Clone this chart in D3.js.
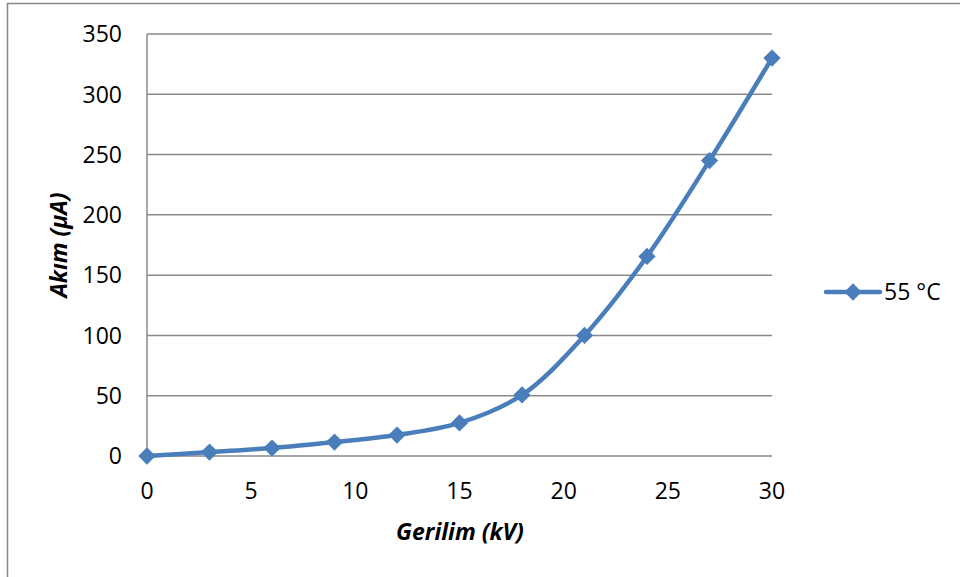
<!DOCTYPE html>
<html>
<head>
<meta charset="utf-8">
<script src="https://cdn.jsdelivr.net/npm/d3@7"></script>
<style>
  body { margin: 0; background: #fff; }
  svg { display: block; }
  text { font-family: "Open Sans", sans-serif; fill: #000; }
</style>
</head>
<body>
<svg id="chart" width="960" height="577"></svg>
<script>
// voltage (kV) and current (uA) readings at 55 C
const voltage = [0, 3, 6, 9, 12, 15, 18, 21, 24, 27, 30];
const current = [0, 3.3, 6.6, 11.6, 17.4, 27.4, 50.6, 100, 165.5, 245, 330];
const xTicks = [0, 5, 10, 15, 20, 25, 30];
const yTicks = [0, 50, 100, 150, 200, 250, 300, 350];
const seriesName = '55 °C';

const blue = '#4a7ebb';
const svg = d3.select('#chart');

// outer chart border (right and bottom fall outside the picture)
svg.append('rect')
	.attr('x', 7.5).attr('y', 3.5)
	.attr('width', 1000).attr('height', 1000)
	.attr('fill', 'none')
	.attr('stroke', '#878787')
	.attr('stroke-width', 1.5);

const plotLeft = 147, plotRight = 772, plotTop = 34, plotBottom = 456;

const x = d3.scaleLinear().domain([0, 30]).range([plotLeft, plotRight]);
const y = d3.scaleLinear().domain([0, 350]).range([plotBottom, plotTop]);

// horizontal gridlines
svg.append('g')
	.selectAll('line')
	.data(yTicks)
	.enter()
	.append('line')
	.attr('x1', plotLeft).attr('x2', plotRight)
	.attr('y1', d => y(d)).attr('y2', d => y(d))
	.attr('stroke', '#898989')
	.attr('stroke-width', 1.5);

// vertical axis line
svg.append('line')
	.attr('x1', plotLeft).attr('x2', plotLeft)
	.attr('y1', plotTop).attr('y2', plotBottom)
	.attr('stroke', '#898989')
	.attr('stroke-width', 1.5);

// y tick labels
svg.append('g')
	.selectAll('text')
	.data(yTicks)
	.enter()
	.append('text')
	.attr('x', 122)
	.attr('y', d => y(d))
	.attr('dy', '0.36em')
	.attr('text-anchor', 'end')
	.style('font-size', '23px')
	.text(d => d);

// x tick labels
svg.append('g')
	.selectAll('text')
	.data(xTicks)
	.enter()
	.append('text')
	.attr('x', d => x(d))
	.attr('y', 499)
	.attr('text-anchor', 'middle')
	.style('font-size', '23px')
	.text(d => d);

// axis titles
svg.append('text')
	.attr('x', 460).attr('y', 540)
	.attr('text-anchor', 'middle')
	.style('font-size', '23px')
	.style('font-weight', 'bold')
	.style('font-style', 'italic')
	.text('Gerilim (kV)');

svg.append('text')
	.attr('transform', 'translate(67,245) rotate(-90)')
	.attr('text-anchor', 'middle')
	.style('font-size', '23px')
	.style('font-weight', 'bold')
	.style('font-style', 'italic')
	.text('Akım (µA)');

const points = voltage.map((v, i) => [v, current[i]]);

const line = d3.line()
	.x(d => x(d[0]))
	.y(d => y(d[1]))
	.curve(d3.curveCatmullRom.alpha(0.5));

svg.append('path')
	.datum(points)
	.attr('d', line)
	.attr('fill', 'none')
	.attr('stroke', blue)
	.attr('stroke-width', 4.5)
	.attr('stroke-linecap', 'round');

const diamond = d3.symbol().type(d3.symbolDiamond2).size(190);

svg.append('g')
	.selectAll('path')
	.data(points)
	.enter()
	.append('path')
	.attr('d', diamond)
	.attr('transform', d => `translate(${x(d[0])},${y(d[1])})`)
	.attr('fill', blue);

// legend
const lg = svg.append('g').attr('transform', 'translate(826,292)');
lg.append('line')
	.attr('x1', 0).attr('x2', 54)
	.attr('stroke', blue)
	.attr('stroke-width', 4.5)
	.attr('stroke-linecap', 'round');
lg.append('path')
	.attr('d', diamond)
	.attr('transform', 'translate(27,0)')
	.attr('fill', blue);
lg.append('text')
	.attr('x', 58)
	.attr('dy', '0.36em')
	.style('font-size', '23px')
	.text(seriesName);
</script>
</body>
</html>
